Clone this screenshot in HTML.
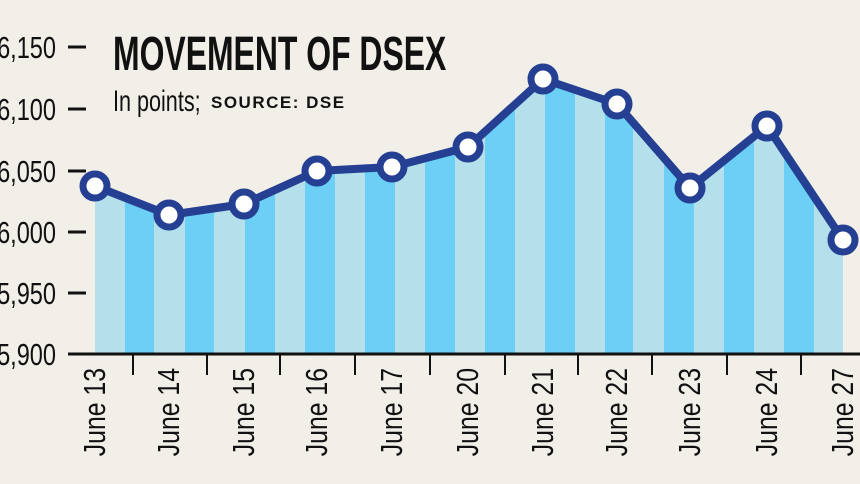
<!DOCTYPE html>
<html><head><meta charset="utf-8"><style>
html,body{margin:0;padding:0;background:#f2efe8;}
svg{display:block;}
text{font-family:"Liberation Sans",sans-serif;fill:#111;}
</style></head><body>
<svg width="860" height="484" viewBox="0 0 860 484" xmlns="http://www.w3.org/2000/svg">
<rect width="860" height="484" fill="#f2efe8"/>
<defs>
<clipPath id="area"><polygon points="95,186 169,215 244,204 317,171 392,167 468,147 543,79 617,104 690,188 767,126 843,240 843,354 95,354"/></clipPath>
</defs>
<g clip-path="url(#area)">
<rect x="94" y="0" width="750" height="354" fill="#b3e0ea"/>
<g fill="#6ccff5">
<rect x="125" y="0" width="29" height="354"/><rect x="185" y="0" width="29" height="354"/>
<rect x="245" y="0" width="30" height="354"/><rect x="305" y="0" width="30" height="354"/>
<rect x="365" y="0" width="30" height="354"/><rect x="425" y="0" width="30" height="354"/>
<rect x="485" y="0" width="30" height="354"/><rect x="545" y="0" width="30" height="354"/>
<rect x="605" y="0" width="28" height="354"/><rect x="664" y="0" width="30" height="354"/>
<rect x="724" y="0" width="30" height="354"/><rect x="784" y="0" width="30" height="354"/>
</g>
</g>
<g stroke="#111" stroke-width="3">
<line x1="68" y1="47" x2="86" y2="47"/><line x1="68" y1="109" x2="86" y2="109"/>
<line x1="68" y1="171" x2="86" y2="171"/><line x1="68" y1="232" x2="86" y2="232"/>
<line x1="68" y1="293" x2="86" y2="293"/>
<line x1="68" y1="354" x2="860" y2="354"/>
</g>
<g stroke="#111" stroke-width="2">
<line x1="133" y1="354" x2="133" y2="375"/><line x1="207" y1="354" x2="207" y2="375"/>
<line x1="280" y1="354" x2="280" y2="375"/><line x1="355" y1="354" x2="355" y2="375"/>
<line x1="430" y1="354" x2="430" y2="375"/><line x1="505" y1="354" x2="505" y2="375"/>
<line x1="578" y1="354" x2="578" y2="375"/><line x1="652" y1="354" x2="652" y2="375"/>
<line x1="727" y1="354" x2="727" y2="375"/><line x1="801" y1="354" x2="801" y2="375"/>
</g>
<g font-size="31" text-anchor="end">
<text transform="translate(56,58) scale(0.76,1)">6,150</text>
<text transform="translate(56,120) scale(0.76,1)">6,100</text>
<text transform="translate(56,182) scale(0.76,1)">6,050</text>
<text transform="translate(56,243) scale(0.76,1)">6,000</text>
<text transform="translate(56,304) scale(0.76,1)">5,950</text>
<text transform="translate(56,365) scale(0.76,1)">5,900</text>
</g>
<g font-size="31" text-anchor="end">
<text transform="translate(105,368) rotate(-90) scale(0.8,1)">June 13</text>
<text transform="translate(179,368) rotate(-90) scale(0.8,1)">June 14</text>
<text transform="translate(254,368) rotate(-90) scale(0.8,1)">June 15</text>
<text transform="translate(327,368) rotate(-90) scale(0.8,1)">June 16</text>
<text transform="translate(402,368) rotate(-90) scale(0.8,1)">June 17</text>
<text transform="translate(478,368) rotate(-90) scale(0.8,1)">June 20</text>
<text transform="translate(553,368) rotate(-90) scale(0.8,1)">June 21</text>
<text transform="translate(627,368) rotate(-90) scale(0.8,1)">June 22</text>
<text transform="translate(700,368) rotate(-90) scale(0.8,1)">June 23</text>
<text transform="translate(777,368) rotate(-90) scale(0.8,1)">June 24</text>
<text transform="translate(853,368) rotate(-90) scale(0.8,1)">June 27</text>
</g>
<text transform="translate(113,70) scale(0.665,1)" font-size="48" font-weight="bold">MOVEMENT OF DSEX</text>
<text transform="translate(113,111) scale(0.72,1)" font-size="30">In points;</text>
<text x="211" y="108" font-size="17" font-weight="bold" letter-spacing="1.5">SOURCE: DSE</text>
<polyline points="95,186 169,215 244,204 317,171 392,167 468,147 543,79 617,104 690,188 767,126 843,240" fill="none" stroke="#253f93" stroke-width="8" stroke-linejoin="round"/>
<g fill="#fff" stroke="#253f93" stroke-width="7">
<circle cx="95" cy="186" r="12"/><circle cx="169" cy="215" r="12"/><circle cx="244" cy="204" r="12"/>
<circle cx="317" cy="171" r="12"/><circle cx="392" cy="167" r="12"/><circle cx="468" cy="147" r="12"/>
<circle cx="543" cy="79" r="12"/><circle cx="617" cy="104" r="12"/><circle cx="690" cy="188" r="12"/>
<circle cx="767" cy="126" r="12"/><circle cx="843" cy="240" r="12"/>
</g>
</svg>
</body></html>
